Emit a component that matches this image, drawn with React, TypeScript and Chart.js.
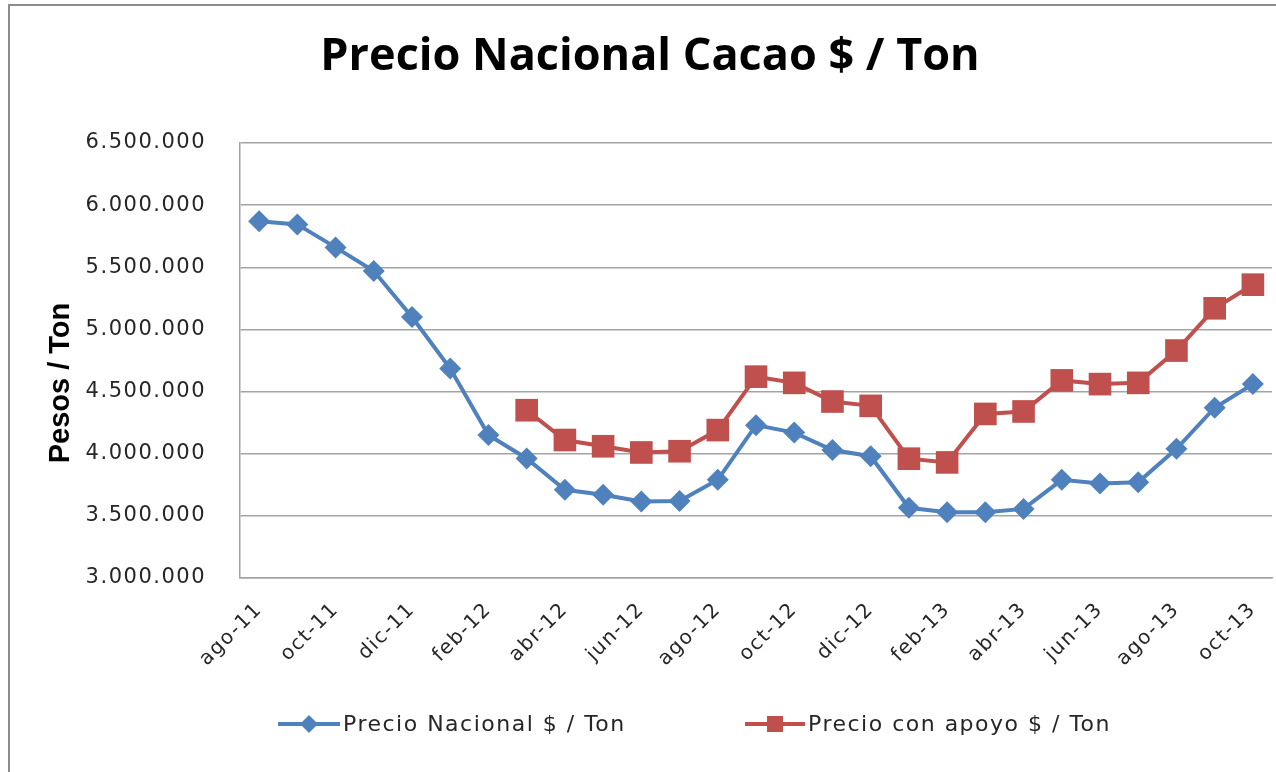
import React, { useEffect, useRef } from "react";
import { Chart, registerables } from "chart.js";

Chart.register(...registerables);

const months = [
  "ago-11", "sep-11", "oct-11", "nov-11", "dic-11",
  "ene-12", "feb-12", "mar-12", "abr-12", "may-12", "jun-12", "jul-12",
  "ago-12", "sep-12", "oct-12", "nov-12", "dic-12",
  "ene-13", "feb-13", "mar-13", "abr-13", "may-13", "jun-13", "jul-13",
  "ago-13", "sep-13", "oct-13",
];

const precioNacional = [
  5870000, 5845000, 5660000, 5470000, 5100000,
  4685000, 4150000, 3962000, 3710000, 3670000, 3615000, 3620000,
  3790000, 4230000, 4170000, 4030000, 3980000,
  3565000, 3530000, 3530000, 3556000, 3790000, 3760000, 3770000,
  4040000, 4370000, 4560000,
];

const precioConApoyo = [
  null, null, null, null, null,
  null, null, 4350000, 4110000, 4060000, 4010000, 4020000,
  4190000, 4620000, 4570000, 4420000, 4385000,
  3960000, 3930000, 4320000, 4340000, 4590000, 4560000, 4570000,
  4830000, 5170000, 5360000,
];

const seriesNames = ["Precio Nacional $ / Ton", "Precio con apoyo $ / Ton"];
const chartTitle = "Precio Nacional Cacao $ / Ton";
const yAxisTitle = "Pesos / Ton";
const yMin = 3000000;
const yMax = 6500000;
const yStep = 500000;

const BLUE = "#4F81BD";
const RED = "#C0504D";
const GRID = "#a3a3a3";
const SPACING = "1.5px";
const CANVAS_W = 1288;
const CANVAS_H = 772;

const spacingPlugin = {
  id: "spacing",
  beforeLayout(chart: any) {
    chart.ctx.letterSpacing = SPACING;
  },
  beforeDraw(chart: any) {
    chart.ctx.letterSpacing = SPACING;
  },
};

const decorPlugin = {
  id: "excelDecor",
  afterDraw(chart: any) {
    const ctx = chart.ctx;
    ctx.save();
    // title
    ctx.letterSpacing = "0px";
    ctx.fillStyle = "#000";
    ctx.font = "bold 45px 'Open Sans'";
    ctx.textAlign = "center";
    ctx.textBaseline = "middle";
    ctx.fillText(chartTitle, 650, 57);
    // y axis title
    ctx.save();
    ctx.translate(61, 383);
    ctx.rotate(-Math.PI / 2);
    ctx.font = "bold 29px 'Liberation Sans'";
    ctx.fillText(yAxisTitle, 0, 0);
    ctx.restore();
    // legend
    const y = 724;
    const items = [
      { x0: 278, x1: 340, color: BLUE, shape: "diamond", text: seriesNames[0] },
      { x0: 745, x1: 805, color: RED, shape: "square", text: seriesNames[1] },
    ];
    for (const it of items) {
      ctx.letterSpacing = "0px";
      ctx.strokeStyle = it.color;
      ctx.lineWidth = 4;
      ctx.beginPath();
      ctx.moveTo(it.x0, y);
      ctx.lineTo(it.x1, y);
      ctx.stroke();
      const cx = (it.x0 + it.x1) / 2;
      ctx.fillStyle = it.color;
      ctx.beginPath();
      if (it.shape === "diamond") {
        const r = 9;
        ctx.moveTo(cx, y - r);
        ctx.lineTo(cx + r, y);
        ctx.lineTo(cx, y + r);
        ctx.lineTo(cx - r, y);
        ctx.closePath();
      } else {
        const h = 8;
        ctx.rect(cx - h, y - h, 2 * h, 2 * h);
      }
      ctx.fill();
      ctx.letterSpacing = SPACING;
      ctx.fillStyle = "#262626";
      ctx.font = "22px 'DejaVu Sans'";
      ctx.textBaseline = "middle";
      ctx.textAlign = "left";
      ctx.fillText(it.text, it.x1 + 3, y + 1);
    }
    ctx.restore();
  },
};

export default function App() {
  const canvasRef = useRef<HTMLCanvasElement | null>(null);

  useEffect(() => {
    if (!canvasRef.current) return;
    const chart = new Chart(canvasRef.current, {
      type: "line",
      data: {
        labels: months,
        datasets: [
          {
            label: seriesNames[0],
            data: precioNacional,
            borderColor: BLUE,
            backgroundColor: BLUE,
            borderWidth: 4,
            pointStyle: "rectRot",
            pointRadius: 11,
            pointBorderWidth: 0,
            pointBackgroundColor: BLUE,
            tension: 0,
          },
          {
            label: seriesNames[1],
            data: precioConApoyo,
            borderColor: RED,
            backgroundColor: RED,
            borderWidth: 4,
            pointStyle: "rect",
            pointRadius: 16,
            pointBorderWidth: 0,
            pointBackgroundColor: RED,
            tension: 0,
          },
        ],
      },
      options: {
        responsive: false,
        animation: false,
        layout: { padding: { left: 0, right: 4, top: 143, bottom: 0 } },
        plugins: {
          legend: { display: false },
          tooltip: { enabled: false },
          title: { display: false },
        },
        scales: {
          x: {
            offset: true,
            grid: { display: false, drawTicks: false },
            border: { display: true, color: GRID, width: 1.5 },
            ticks: {
              autoSkip: false,
              minRotation: 45,
              maxRotation: 45,
              padding: 20,
              color: "#262626",
              font: { family: "DejaVu Sans", size: 20 },
              callback: (_v: any, i: number) => (i % 2 === 0 ? months[i] : ""),
            },
            afterFit: (scale: any) => {
              scale.height = 194;
              scale.paddingLeft = 0;
              scale.paddingRight = 0;
            },
          },
          y: {
            min: yMin,
            max: yMax,
            grid: { color: GRID, lineWidth: 1.5, drawTicks: false },
            border: { display: true, color: GRID, width: 1.5 },
            ticks: {
              stepSize: yStep,
              padding: 34,
              color: "#262626",
              font: { family: "DejaVu Sans", size: 21 },
              callback: (v: any) => Number(v).toLocaleString("de-DE"),
            },
            afterFit: (scale: any) => {
              scale.width = 240;
              scale.paddingTop = 0;
              scale.paddingBottom = 0;
            },
          },
        },
      },
      plugins: [spacingPlugin, decorPlugin],
    });
    return () => chart.destroy();
  }, []);

  return (
    <div style={{ position: "fixed", left: 0, top: 0, width: 1276, height: 772, background: "#fff", overflow: "hidden" }}>
      <canvas
        ref={canvasRef}
        width={CANVAS_W}
        height={CANVAS_H}
        style={{ position: "absolute", left: 0, top: 0, width: CANVAS_W, height: CANVAS_H }}
      />
      <div
        style={{
          position: "absolute",
          left: 8,
          top: 4,
          width: 1400,
          height: 900,
          border: "2px solid #8c8c8c",
          pointerEvents: "none",
        }}
      />
    </div>
  );
}
